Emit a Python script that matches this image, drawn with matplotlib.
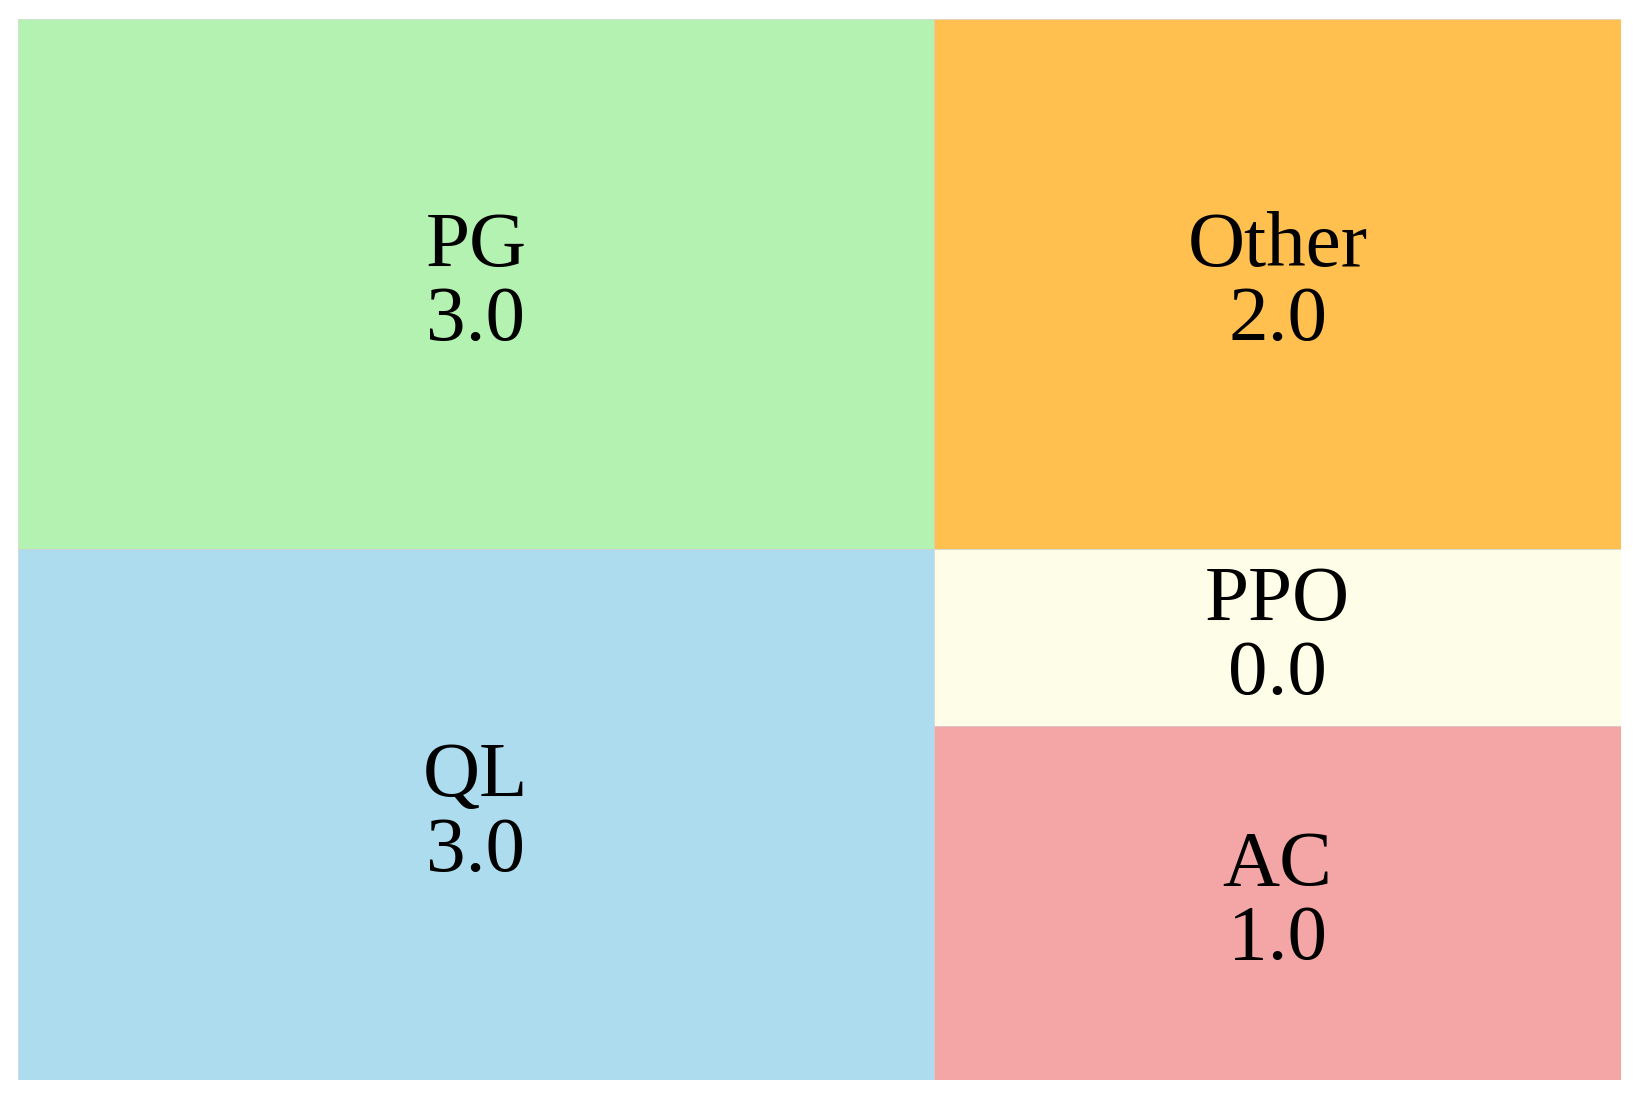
import matplotlib.pyplot as plt
from matplotlib.patches import Rectangle

labels = ["PG", "QL", "Other", "PPO", "AC"]
values = [3.0, 3.0, 2.0, 0.0, 1.0]
colors = ["#b3f2b0", "#acdcee", "#ffc04f", "#fefee8", "#f4a6a6"]
columns = [[0, 1], [2, 3, 4]]  # treemap columns, top to bottom

# tile size is value + 1 so zero-valued items still get a tile
sizes = [v + 1 for v in values]
total = sum(sizes)

fig = plt.figure(figsize=(16.4, 11), dpi=100)
ax = fig.add_axes([0.0108, 0.018, 0.9777, 0.965])
ax.set_xlim(0, 1)
ax.set_ylim(0, 1)
ax.axis("off")

x = 0.0
for col in columns:
    colsum = sum(sizes[i] for i in col)
    w = colsum / total
    y = 1.0
    for i in col:
        h = sizes[i] / colsum
        y -= h
        ax.add_patch(Rectangle((x, y), w, h, facecolor=colors[i],
                               edgecolor="#cccccc", linewidth=0.4))
        ax.text(x + w / 2, y + h / 2, "%s\n%.1f" % (labels[i], values[i]),
                ha="center", va="center", fontsize=57, linespacing=1.05,
                family="Liberation Serif")
    x += w

fig.savefig("out.png", dpi=100)
